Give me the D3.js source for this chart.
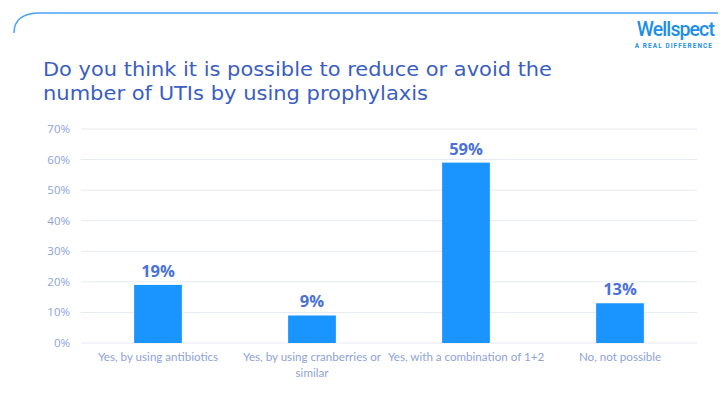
<!DOCTYPE html>
<html><head><meta charset="utf-8">
<script src="https://cdn.jsdelivr.net/npm/d3@7"></script>
<style>body{margin:0;background:#fff}svg{display:block}</style>
</head><body>
<svg id="c" width="728" height="409"></svg>
<script>
const categories = ["Yes, by using antibiotics", "Yes, by using cranberries or similar", "Yes, with a combination of 1+2", "No, not possible"];
const labelLines = [["Yes, by using antibiotics"], ["Yes, by using cranberries or", "similar"], ["Yes, with a combination of 1+2"], ["No, not possible"]];
const values = [19, 9, 59, 13];
const ticks = [0, 10, 20, 30, 40, 50, 60, 70];

const svg = d3.select("#c");
// top decorative line
svg.append("path").attr("d", "M14,33 Q14,13 40,13 L718,13")
  .attr("fill", "none").attr("stroke", "#4aa3f5").attr("stroke-width", 1.5);

// logo
svg.append("text").attr("x", 714).attr("y", 36).attr("text-anchor", "end")
  .attr("font-family", "Roboto, sans-serif").attr("font-size", 19.5).attr("font-weight", 500)
  .attr("letter-spacing", -0.9).attr("fill", "#1d8fe6").text("Wellspect");
svg.append("text").attr("x", 713).attr("y", 47.5).attr("text-anchor", "end")
  .attr("font-family", "Roboto, sans-serif").attr("font-size", 6.4).attr("font-weight", 700)
  .attr("letter-spacing", 1.1).attr("fill", "#1d8fe6").text("A REAL DIFFERENCE");

// title
const title = svg.append("text").attr("font-family", "'DejaVu Sans', sans-serif")
  .attr("font-size", 20).attr("font-weight", 400).attr("fill", "#3a5ec2");
title.append("tspan").attr("x", 43).attr("y", 76).attr("textLength", 509).attr("lengthAdjust", "spacingAndGlyphs")
  .text("Do you think it is possible to reduce or avoid the");
title.append("tspan").attr("x", 43).attr("y", 100).attr("textLength", 385).attr("lengthAdjust", "spacingAndGlyphs")
  .text("number of UTIs by using prophylaxis");

const x = d3.scaleBand().domain(categories).range([81, 697]).paddingInner(0.69).paddingOuter(0.345);
const y = d3.scaleLinear().domain([0, 70]).range([343, 129]);

// gridlines
svg.append("g").selectAll("line").data(ticks).join("line")
  .attr("x1", 81).attr("x2", 697).attr("y1", d => y(d)).attr("y2", d => y(d))
  .attr("stroke", "#e6eaf3").attr("stroke-width", 1);

// y axis labels
svg.append("g").selectAll("text").data(ticks).join("text")
  .attr("x", 70).attr("y", d => y(d) + 4).attr("text-anchor", "end")
  .attr("font-family", "'Open Sans', sans-serif").attr("font-size", 11.5)
  .attr("fill", "#8ea2dc").text(d => d + "%");

// bars
svg.append("g").selectAll("rect").data(values).join("rect")
  .attr("x", (d, i) => x(categories[i])).attr("width", x.bandwidth())
  .attr("y", d => y(d)).attr("height", d => y(0) - y(d)).attr("fill", "#1a94ff");

// value labels
svg.append("g").selectAll("text").data(values).join("text")
  .attr("x", (d, i) => x(categories[i]) + x.bandwidth() / 2).attr("y", d => y(d) - 8)
  .attr("text-anchor", "middle").attr("font-family", "'Open Sans', sans-serif")
  .attr("font-size", 16.5).attr("font-weight", 700).attr("fill", "#4a72d8").text(d => d + "%");

// category labels
const cl = svg.append("g").selectAll("text").data(categories).join("text")
  .attr("text-anchor", "middle").attr("font-family", "Lato, sans-serif")
  .attr("font-size", 11.6).attr("fill", "#8ea2dc");
cl.each(function(d, i) {
  const t = d3.select(this);
  labelLines[i].forEach((ln, j) => {
    t.append("tspan").attr("x", x(d) + x.bandwidth() / 2).attr("y", 361 + j * 16).text(ln);
  });
});
</script>
</body></html>
